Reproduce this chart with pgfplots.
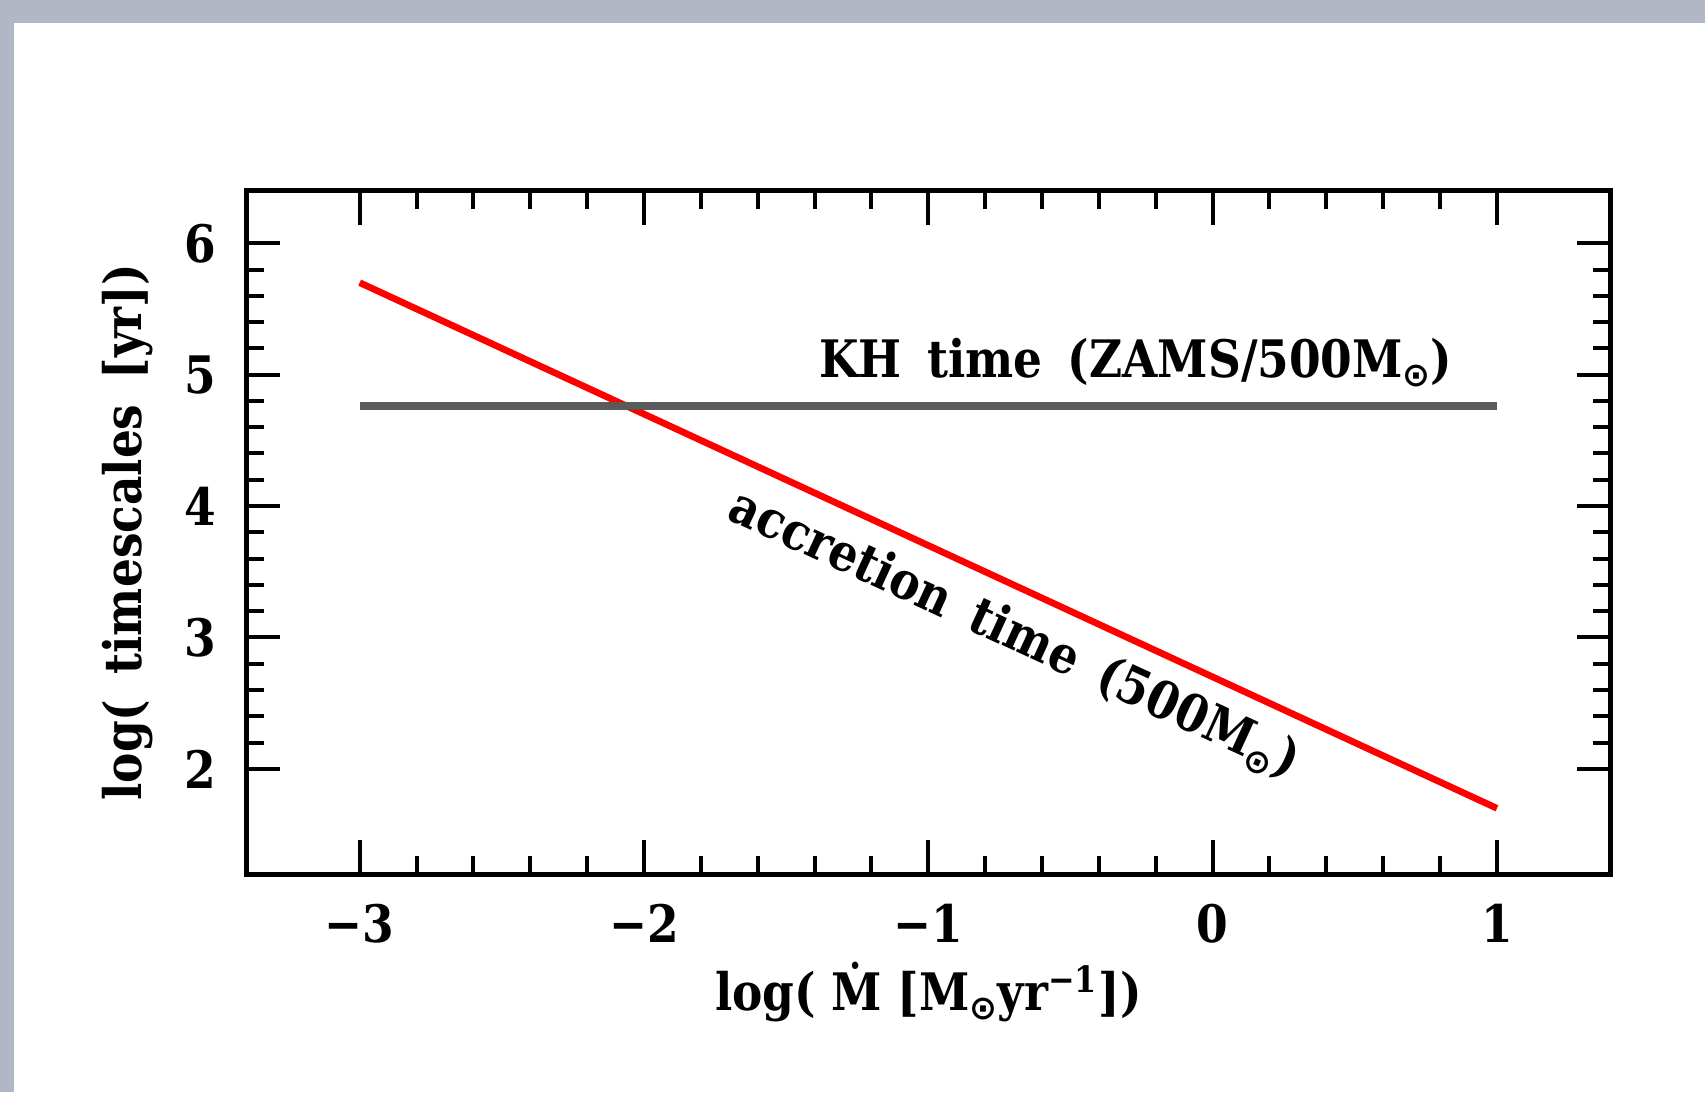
\documentclass[border=0pt]{standalone}
\usepackage{fontspec}
\setmainfont{DejaVu Serif}[FakeStretch=0.88]
\newfontfamily\annfont{DejaVu Serif}[FakeStretch=0.88, WordSpace=1.6]
\newfontfamily\symfont{DejaVu Sans}
\usepackage{pgfplots}
\pgfplotsset{compat=1.18}
\definecolor{bgcol}{RGB}{178,183,198}
\definecolor{khgray}{RGB}{90,90,90}
\newcommand{\sun}{\raisebox{-0.35ex}{\symfont\bfseries\fontsize{10}{10}\selectfont ⊙}}
\newcommand{\lbl}{\fontsize{15.5}{16}\selectfont\bfseries}
\newcommand{\albl}{\annfont\fontsize{15.5}{16}\selectfont\bfseries}
\begin{document}
\begin{tikzpicture}
\fill[bgcol] (0,0) rectangle (511.5pt,327.6pt);
\fill[white] (4.2pt,0) rectangle (511.5pt,320.7pt);
\useasboundingbox (0,0) rectangle (511.5pt,327.6pt);
\begin{axis}[
  at={(73.8pt,65.4pt)}, anchor=south west,
  scale only axis, width=409.4pt, height=205pt,
  xmin=-3.4, xmax=1.4, ymin=1.2, ymax=6.4,
  xtick={-3,-2,-1,0,1},
  xticklabels={−3,−2,−1,0,1},
  ytick={2,3,4,5,6},
  yticklabels={2,3,4,5,6},
  minor x tick num=4, minor y tick num=4,
  tick align=inside, tick pos=both,
  major tick length=10.2pt, minor tick length=5.4pt,
  every tick/.style={black, line width=1.2pt},
  axis line style={line width=1.5pt},
  every axis/.append style={line width=1.5pt},
  ticklabel style={font=\lbl},
  xticklabel style={yshift=-5pt},
  yticklabel style={xshift=-5pt},
  every axis x label/.style={at={(axis description cs:0.5,0)}, yshift=-35.3pt, anchor=center, font=\lbl},
  every axis y label/.style={at={(axis description cs:0,0.5)}, xshift=-35.4pt, anchor=center, rotate=90, font=\albl},
  xlabel={log( \.{M} [M\sun yr\textsuperscript{−1}])},
  ylabel={log( timescales [yr])},
  clip=false,
]
\addplot[red, line width=2pt, line cap=butt] coordinates {(-3,5.7) (1,1.7)};
\addplot[khgray, line width=2.3pt, line cap=butt] coordinates {(-3,4.76) (1,4.76)};
\node[anchor=base, font=\albl] at (axis cs:-0.27,4.98) {KH time (ZAMS/500M\sun)};
\node[anchor=center, rotate=-24.75, font=\albl] at (axis cs:-0.70,3.02) {accretion time (500M\sun)};
\end{axis}
\end{tikzpicture}
\end{document}
